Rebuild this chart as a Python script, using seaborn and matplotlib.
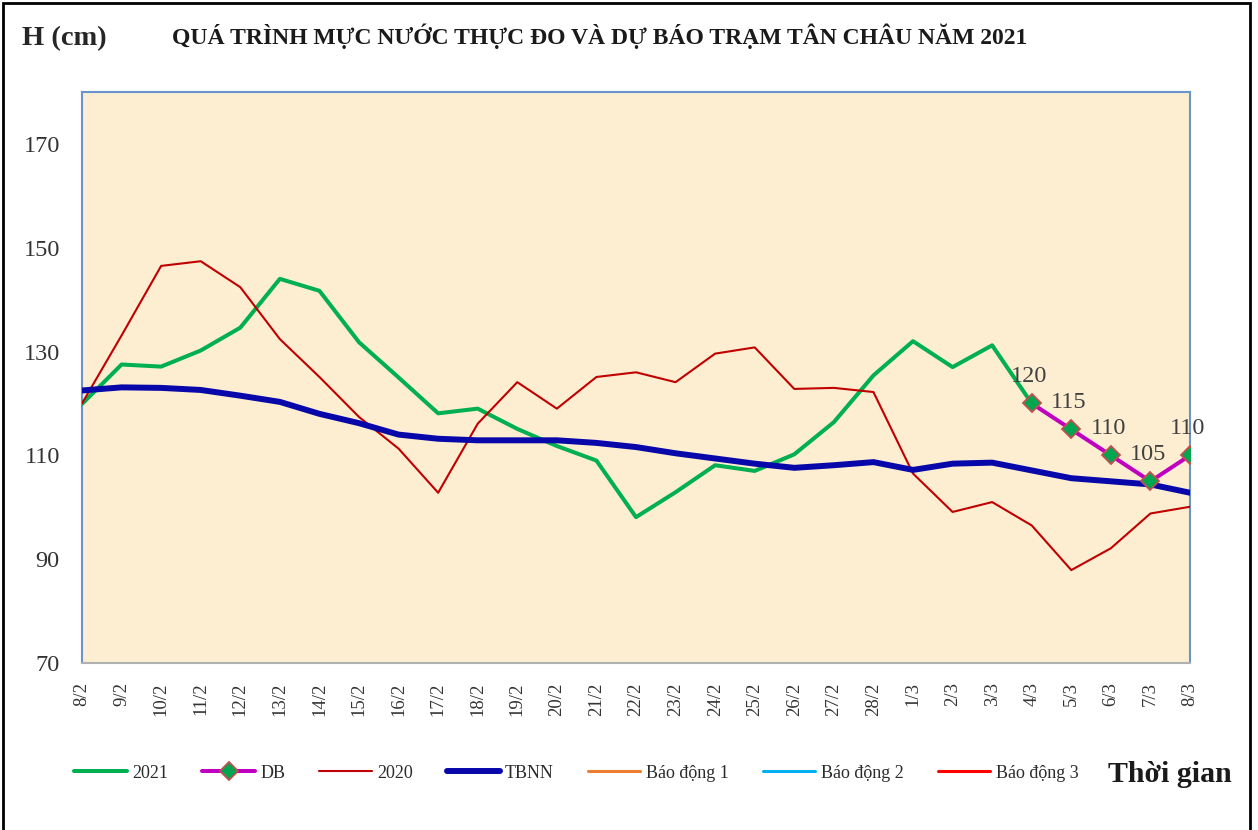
import numpy as np
import pandas as pd
import matplotlib
matplotlib.use("Agg")
import matplotlib.pyplot as plt
import seaborn as sns
from matplotlib.patches import Rectangle

# ngày quan trắc (trục x)
ngay = ['8/2', '9/2', '10/2', '11/2', '12/2', '13/2', '14/2', '15/2', '16/2', '17/2',
        '18/2', '19/2', '20/2', '21/2', '22/2', '23/2', '24/2', '25/2', '26/2', '27/2',
        '28/2', '1/3', '2/3', '3/3', '4/3', '5/3', '6/3', '7/3', '8/3']

# mực nước thực đo 2021 (đến 4/3)
h2021 = [119.9, 127.5, 127.1, 130.2, 134.6, 144.0, 141.7, 131.8, 125.0, 118.1,
         119.0, 115.1, 111.8, 109.0, 98.1, 102.9, 108.1, 107.0, 110.2, 116.4,
         125.4, 132.0, 127.0, 131.2, 120.0]

# dự báo
db_ngay = ['4/3', '5/3', '6/3', '7/3', '8/3']
db = [120, 115, 110, 105, 110]

# cùng kỳ 2020
h2020 = [120.0, 133.1, 146.5, 147.4, 142.4, 132.4, 125.1, 117.4, 111.3, 102.8,
         116.1, 124.1, 119.0, 125.1, 126.0, 124.1, 129.6, 130.8, 122.8, 123.0,
         122.2, 106.5, 99.1, 101.0, 96.5, 87.9, 92.1, 98.8, 100.1]

# trung bình nhiều năm
tbnn = [122.5, 123.1, 123.0, 122.6, 121.5, 120.3, 118.0, 116.2, 114.0, 113.2,
        112.9, 112.9, 112.9, 112.4, 111.6, 110.4, 109.4, 108.4, 107.6, 108.1,
        108.7, 107.2, 108.4, 108.6, 107.1, 105.6, 105.0, 104.4, 102.8]

# mức báo động (cm), nằm ngoài khung trục
bao_dong = [350, 400, 450]
bao_dong_ten = ['Báo động 1', 'Báo động 2', 'Báo động 3']
bao_dong_mau = ['#ED7D31', '#00B0F0', '#FF0000']

sns.set_theme(style="white")
plt.rcParams['font.family'] = ['Liberation Serif', 'DejaVu Serif']

x_all = np.arange(len(ngay))
x_2021 = np.arange(len(h2021))
x_db = np.array([ngay.index(d) for d in db_ngay])

fig = plt.figure(figsize=(12.58, 8.30), dpi=100)
ax = fig.add_axes([82 / 1258, 1 - 663 / 830, (1190 - 82) / 1258, (663 - 92) / 830])
ax.set_facecolor('#FDEED2')

sns.lineplot(x=x_2021, y=h2021, ax=ax, color='#00B050', lw=2.9, label='2021', zorder=3)
sns.lineplot(x=x_db, y=db, ax=ax, color='#C000C0', lw=2.9, marker='D', markersize=9.5,
             markerfacecolor='#00A550', markeredgecolor='#C0504D', markeredgewidth=1.3,
             label='DB', zorder=6)
sns.lineplot(x=x_all, y=h2020, ax=ax, color='#C00000', lw=1.5, label='2020', zorder=4)
sns.lineplot(x=x_all, y=tbnn, ax=ax, color='#0808AA', lw=4.3, label='TBNN', zorder=5)
for lv, ten, mau in zip(bao_dong, bao_dong_ten, bao_dong_mau):
    ax.axhline(lv, color=mau, lw=2.2, label=ten)

for xi, v in zip(x_db, db):
    ax.annotate(f'{v}', (xi, v), xytext=(-2, 12), textcoords='offset points',
                ha='center', va='bottom', fontsize=17.5, color='#404040', zorder=7)

ax.set_xlim(0, len(ngay) - 1)
ax.set_ylim(70, 180)
ax.set_yticks([70, 90, 110, 130, 150, 170])
ax.set_xticks(x_all)
ax.set_xticklabels(ngay, rotation=90, fontsize=13.5, color='#333333')
ax.tick_params(axis='y', length=0, pad=16, labelsize=17.5, labelcolor='#333333')
ax.tick_params(axis='x', length=0, pad=14)
ax.set_xlabel('')
ax.set_ylabel('')
ax.grid(False)
for s in ['top', 'left', 'right']:
    ax.spines[s].set_color('#6A95CC')
    ax.spines[s].set_linewidth(1.5)
ax.spines['bottom'].set_color('#B0B0B0')
ax.spines['bottom'].set_linewidth(1.5)

handles, labels = ax.get_legend_handles_labels()
ax.get_legend().remove()
fig.legend(handles, labels, loc='center left', bbox_to_anchor=(58 / 1258, 1 - 773 / 830),
           ncol=7, frameon=False, fontsize=13, handlelength=2.9, handletextpad=0.3,
           columnspacing=1.9, labelcolor='#2b2b2b')

fig.text(22 / 1258, 1 - 39 / 830, 'H (cm)', fontsize=20.5, fontweight='bold', va='center', ha='left')
fig.text(172 / 1258, 1 - 36 / 830, 'QUÁ TRÌNH MỰC NƯỚC THỰC ĐO VÀ DỰ BÁO TRẠM TÂN CHÂU NĂM 2021',
         fontsize=17, fontweight='bold', va='center', ha='left', color='#1a1a1a')
fig.text(1232 / 1258, 1 - 774 / 830, 'Thời gian', fontsize=21.5, fontweight='bold',
         va='center', ha='right', color='#1a1a1a')

fig.patches.append(Rectangle((3 / 1258, -0.01), 1247 / 1258, 1.01 - 3 / 830,
                             transform=fig.transFigure, fill=False, edgecolor='black',
                             lw=2, zorder=10))

fig.savefig('out.png', dpi=100)
